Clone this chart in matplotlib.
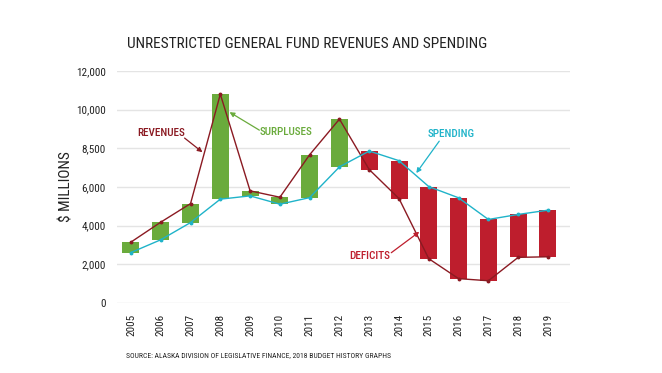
import numpy as np
import matplotlib
matplotlib.use("Agg")
import matplotlib.pyplot as plt
from matplotlib import font_manager

years = list(range(2005, 2020))
revenues = [3150, 4180, 5140, 10800, 5800, 5470, 7670, 9510, 6900, 5400, 2290, 1260, 1150, 2360, 2390]
spending = [2610, 3270, 4160, 5370, 5540, 5110, 5450, 7040, 7860, 7360, 6020, 5440, 4320, 4580, 4800]
ytick_values = [0, 2000, 4000, 6000, 8000, 10000, 12000]
ytick_labels = ["0", "2,000", "4,000", "6,000", "8,500", "10,000", "12,000"]

GREEN = "#6aab3c"
RED = "#be1e2d"
REV_LINE = "#8b1a22"
SPEND_LINE = "#1fb3c9"
GRID = "#e4e4e4"

# pick a narrow face if there is one
available = {f.name for f in font_manager.fontManager.ttflist}
family = "DejaVu Sans"
for name in ["Liberation Sans Narrow", "Roboto Condensed", "DejaVu Sans Condensed", "Roboto", "Liberation Sans"]:
    if name in available:
        family = name
        break
plt.rcParams["font.family"] = family

fig = plt.figure(figsize=(6.62, 3.73), dpi=100)
ax = fig.add_axes([0.1767, 0.1877, 0.6843, 0.622])

x = np.array(years)
rev = np.array(revenues)
spd = np.array(spending)
bottom = np.minimum(rev, spd)
height = np.abs(rev - spd)
colors = [GREEN if r >= s else RED for r, s in zip(rev, spd)]

ax.bar(x, height, bottom=bottom, width=0.57, color=colors, zorder=2)
ax.plot(x, rev, color=REV_LINE, lw=1.0, marker="o", ms=1.8, zorder=3)
ax.plot(x, spd, color=SPEND_LINE, lw=1.0, marker="o", ms=1.8, zorder=3)

ax.set_xlim(2004.53, 2019.74)
ax.set_ylim(0, 12000)
ax.set_yticks(ytick_values)
ax.set_yticklabels(ytick_labels)
ax.set_xticks(years)
ax.set_xticklabels([str(y) for y in years], rotation=90)
ax.tick_params(axis="both", length=0, labelsize=8, colors="#222222")
ax.tick_params(axis="y", pad=8)
ax.tick_params(axis="x", pad=8)
ax.grid(axis="y", color=GRID, lw=1, zorder=0)
ax.set_axisbelow(True)
for sp in ax.spines.values():
    sp.set_visible(False)

ax.set_ylabel("$ MILLIONS", fontsize=11, color="#222222", labelpad=2)

def note(label, color, text_xy, tail, head):
    ax.text(text_xy[0], text_xy[1], label, color=color, fontsize=8,
            ha="center", va="center", zorder=4, fontweight="medium")
    ax.annotate("", xy=head, xytext=tail,
                arrowprops=dict(arrowstyle="-|>", color=color, lw=0.9,
                                mutation_scale=7, shrinkA=0, shrinkB=0),
                zorder=4)

note("REVENUES", REV_LINE, (2006.02, 8780), (2006.8, 8530), (2007.4, 7800))
note("SURPLUSES", GREEN, (2010.22, 8830), (2009.31, 8940), (2008.31, 9870))
note("SPENDING", SPEND_LINE, (2015.76, 8730), (2015.35, 8370), (2014.58, 6720))
note("DEFICITS", RED, (2013.0, 2440), (2013.74, 2600), (2014.68, 3680))

fig.text(127 / 662, 1 - 44 / 373, "UNRESTRICTED GENERAL FUND REVENUES AND SPENDING",
         fontsize=11.1, color="#222222", ha="left", va="center")
fig.text(126 / 662, 1 - 355 / 373,
         "SOURCE: ALASKA DIVISION OF LEGISLATIVE FINANCE, 2018 BUDGET HISTORY GRAPHS",
         fontsize=5.5, color="#222222", ha="left", va="center")

fig.savefig("out.png", dpi=100)
